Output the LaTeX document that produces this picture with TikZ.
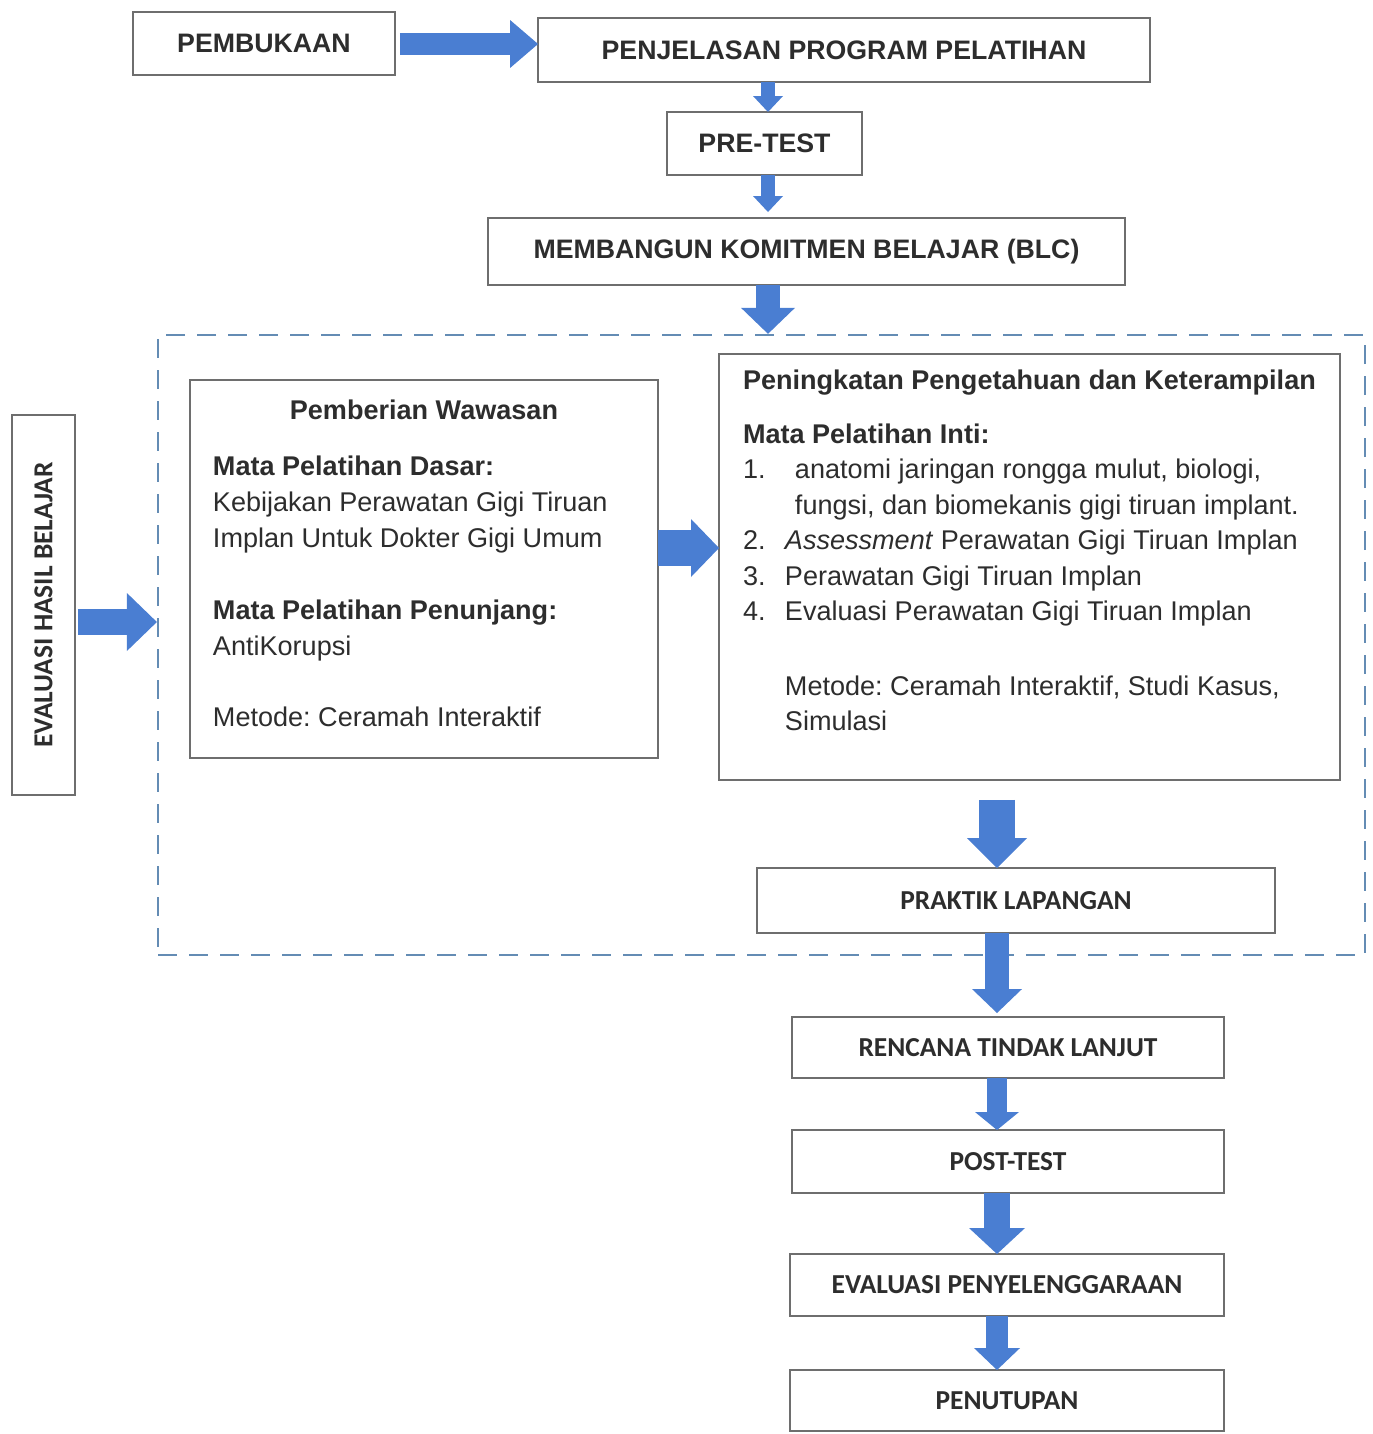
\documentclass[tikz,border=0pt]{standalone}
\usepackage{fontspec}
\setmainfont{Liberation Sans}
\newfontfamily\calfont{Carlito}
\usetikzlibrary{positioning,arrows.meta}
\frenchspacing
\definecolor{biru}{RGB}{74,126,210}
\definecolor{garis}{RGB}{110,110,110}
\definecolor{tinta}{RGB}{45,45,45}
\definecolor{bingkai}{RGB}{100,140,180}
\tikzset{
	kotak/.style={
		rectangle,
		draw=garis, line width=1pt,
		fill=white,
		text=tinta,
		inner sep=0pt, outer sep=0pt,
		font=\fontsize{15.2}{18}\selectfont\bfseries,
		text centered},
	kotakbawah/.style={
		kotak,
		font=\calfont\fontsize{15.6}{18}\selectfont\bfseries},
	isi/.style={
		rectangle,
		draw=garis, line width=1pt,
		text=tinta,
		anchor=north west,
		inner sep=0pt, outer sep=0pt},
	kerangka/.style={
		draw=bingkai, line width=1.4pt,
		dash pattern=on 0.38cm off 0.24cm,
		inner sep=0pt},
	blok/.style n args={3}{
		draw=biru, line width=#1,
		-{Triangle[width=#2, length=#3, line width=0pt]}},
}

\begin{document}
\begin{tikzpicture}[x=0.02cm, y=-0.02cm]
	\useasboundingbox (0,0) rectangle (1373,1434);

	% the dashed frame goes first, the arrows cross it
	\node[kerangka, minimum width=24.14cm, minimum height=12.4cm] (frame) at (761.5,645) {};

	\node[kotak, minimum width=5.24cm, minimum height=1.26cm] (pembukaan) at (264,43.5) {PEMBUKAAN};
	\node[kotak, minimum width=12.24cm, minimum height=1.28cm] (penjelasan) at (844,50) {PENJELASAN PROGRAM PELATIHAN};
	\node[kotak, minimum width=3.9cm, minimum height=1.26cm] (pretest) at (764.5,143.5) {PRE-TEST};
	\node[kotak, minimum width=12.74cm, minimum height=1.34cm] (membangun) at (806.5,251.5) {MEMBANGUN KOMITMEN BELAJAR (BLC)};

	\node[kotakbawah, rotate=90, minimum width=7.6cm, minimum height=1.26cm] (evaluasi) at (43.5,605) {EVALUASI HASIL BELAJAR};

	\node[isi] (wawasan) at (190,380) {\hspace*{0.46cm}\parbox[c][7.56cm][t]{8.44cm}{%
		\fontsize{15.4}{20.4}\selectfont\raggedright
		\vspace*{11.5pt}
		{\centering\bfseries Pemberian Wawasan\par}
		\vspace{11.5pt}
		{\bfseries Mata Pelatihan Dasar:}\\
		Kebijakan Perawatan Gigi Tiruan\\
		Implan Untuk Dokter Gigi Umum\\
		\mbox{}\\
		{\bfseries Mata Pelatihan Penunjang:}\\
		AntiKorupsi\\
		\mbox{}\\
		Metode: Ceramah Interaktif\par}\hspace*{0.46cm}};

	\node[isi] (peningkatan) at (719,354) {\hspace*{0.48cm}\parbox[c][8.52cm][t]{11.94cm}{%
		\fontsize{15.4}{20.2}\selectfont\raggedright
		\vspace*{9.2pt}
		{\bfseries Peningkatan Pengetahuan dan Keterampilan}\par
		\vspace{10.3pt}
		{\bfseries Mata Pelatihan Inti:}\\
		\makebox[1.04cm][l]{1.}anatomi jaringan rongga mulut, biologi,\\
		\hspace*{1.04cm}fungsi, dan biomekanis gigi tiruan implant.\\
		\makebox[0.84cm][l]{2.}\textit{Assessment} Perawatan Gigi Tiruan Implan\\
		\makebox[0.84cm][l]{3.}Perawatan Gigi Tiruan Implan\\
		\makebox[0.84cm][l]{4.}Evaluasi Perawatan Gigi Tiruan Implan\\
		\mbox{}\\[2pt]
		\hspace*{0.84cm}Metode: Ceramah Interaktif, Studi Kasus,\\
		\hspace*{0.84cm}Simulasi\par}};

	\node[kotakbawah, minimum width=10.36cm, minimum height=1.3cm] (praktik) at (1016,900.5) {PRAKTIK LAPANGAN};
	\node[kotakbawah, minimum width=8.64cm, minimum height=1.22cm] (rencana) at (1008,1047.5) {RENCANA TINDAK LANJUT};
	\node[kotakbawah, minimum width=8.64cm, minimum height=1.26cm] (posttest) at (1008,1161.5) {POST-TEST};
	\node[kotakbawah, minimum width=8.68cm, minimum height=1.24cm] (penyelenggaraan) at (1007,1285) {EVALUASI PENYELENGGARAAN};
	\node[kotakbawah, minimum width=8.68cm, minimum height=1.22cm] (penutupan) at (1007,1400.5) {PENUTUPAN};

	% axes for the block arrows
	\coordinate (atas) at (768,0);
	\coordinate (bawah) at (997,0);
	\coordinate (kiri) at (0,44);
	\coordinate (masuk) at (0,622);
	\coordinate (tengah) at (0,548);

	\draw[blok={0.44cm}{0.96cm}{0.56cm}, shorten <=0.1cm] (pembukaan.east |- kiri) -- (penjelasan.west |- kiri);
	\draw[blok={0.28cm}{0.6cm}{0.32cm}] (penjelasan.south -| atas) -- (pretest.north -| atas);
	\draw[blok={0.28cm}{0.6cm}{0.32cm}, shorten >=0.12cm] (pretest.south -| atas) -- (membangun.north -| atas);
	\draw[blok={0.48cm}{1.08cm}{0.52cm}] (membangun.south -| atas) -- (frame.north -| atas);

	\draw[blok={0.52cm}{1.16cm}{0.6cm}, shorten <=0.06cm] (evaluasi.south |- masuk) -- (frame.west |- masuk);
	\draw[blok={0.72cm}{1.16cm}{0.56cm}] (wawasan.east |- tengah) -- (peningkatan.west |- tengah);

	\draw[blok={0.72cm}{1.2cm}{0.6cm}, shorten <=0.4cm] (peningkatan.south -| bawah) -- (praktik.north -| bawah);
	\draw[blok={0.48cm}{1.0cm}{0.48cm}, shorten >=0.08cm] (praktik.south -| bawah) -- (rencana.north -| bawah);
	\draw[blok={0.4cm}{0.88cm}{0.36cm}] (rencana.south -| bawah) -- (posttest.north -| bawah);
	\draw[blok={0.52cm}{1.12cm}{0.52cm}] (posttest.south -| bawah) -- (penyelenggaraan.north -| bawah);
	\draw[blok={0.44cm}{0.92cm}{0.44cm}] (penyelenggaraan.south -| bawah) -- (penutupan.north -| bawah);
\end{tikzpicture}
\end{document}
